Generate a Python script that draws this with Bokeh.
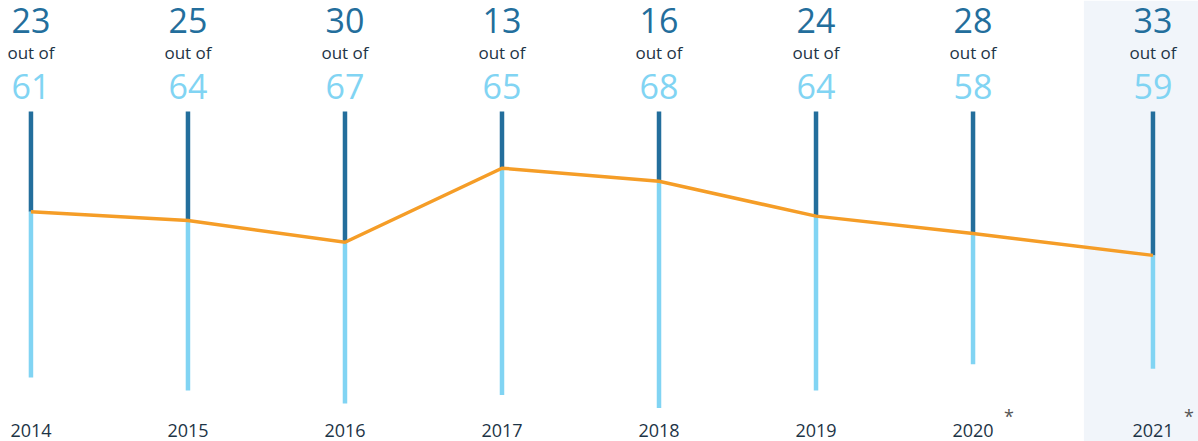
from bokeh.plotting import figure
from bokeh.models import Range1d, ColumnDataSource, BoxAnnotation
from bokeh.core.properties import value
from bokeh.embed import file_html
from bokeh.resources import INLINE

# ---- data ----
years = ["2014", "2015", "2016", "2017", "2018", "2019", "2020", "2021"]
selected = [23, 25, 30, 13, 16, 24, 28, 33]
totals = [61, 64, 67, 65, 68, 64, 58, 59]
asterisk_years = ["2020", "2021"]

# ---- layout / style ----
DARK = "#236e9c"
LIGHT = "#81d4f3"
ORANGE = "#f59d27"
TEXT = "#1d3446"
SHADE = "#f1f5fa"
FONT = value("Open Sans")
HIGHLIGHT_SHIFT = 0.146  # last year is drawn a little further right

xs = [float(i) for i in range(len(years))]
xs[-1] += HIGHLIGHT_SHIFT

src = ColumnDataSource(dict(
    x=xs,
    zero=[0] * len(years),
    sel=selected,
    tot=totals,
    sel_txt=[str(v) for v in selected],
    tot_txt=[str(v) for v in totals],
    out_txt=["out of"] * len(years),
    year=years,
))

p = figure(width=1198, height=441, output_backend="svg", toolbar_location=None,
           x_range=Range1d(-0.194, 7.436), y_range=Range1d(75.69, -25.46),
           x_axis_type=None, y_axis_type=None, min_border=0,
           background_fill_color="white", border_fill_color="white")
p.outline_line_color = None
p.xgrid.visible = False
p.ygrid.visible = False

# highlighted last-year band
p.add_layout(BoxAnnotation(left=xs[-1] - 0.44, fill_color=SHADE, fill_alpha=1.0,
                           line_color=None, level="underlay"))

# bars
p.segment(x0="x", y0="zero", x1="x", y1="sel", source=src, line_color=DARK,
          line_width=4.5, line_cap="butt")
p.segment(x0="x", y0="sel", x1="x", y1="tot", source=src, line_color=LIGHT,
          line_width=4.5, line_cap="butt")

# line through selected values
p.line(x="x", y="sel", source=src, line_color=ORANGE, line_width=3.5,
       line_join="miter")

# texts
common = dict(source=src, text_align="center", text_baseline="alphabetic", text_font=FONT)
p.text(x="x", y="zero", text="sel_txt", y_offset=-91, text_font_size="34px",
       text_color=DARK, **common)
p.text(x="x", y="zero", text="out_txt", y_offset=-59.5, text_font_size="17px",
       text_color=TEXT, **common)
p.text(x="x", y="zero", text="tot_txt", y_offset=-25.5, text_font_size="34px",
       text_color=LIGHT, **common)
p.text(x="x", y="zero", text="year", y_offset=319, text_font_size="18px",
       text_color=TEXT, **common)

# asterisks
ast_src = ColumnDataSource(dict(
    x=[xs[years.index(y)] for y in asterisk_years],
    zero=[0] * len(asterisk_years),
    t=["*"] * len(asterisk_years),
))
p.text(x="x", y="zero", text="t", source=ast_src, x_offset=36, y_offset=304,
       text_align="center", text_baseline="alphabetic", text_font=FONT,
       text_font_size="18px", text_color="#555555")

open("out.html", "w").write(file_html(p, INLINE))
